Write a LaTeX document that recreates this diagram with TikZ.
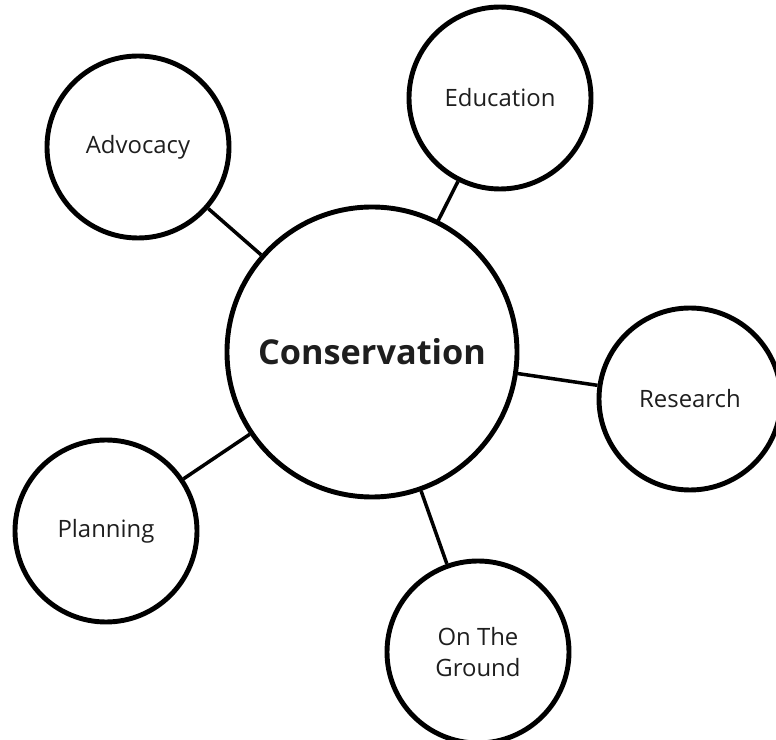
\documentclass[tikz,border=0pt]{standalone}
\usepackage{fontspec}
\setmainfont{Open Sans}
\usepackage{tikz}
\usepackage{xcolor}
\usetikzlibrary{positioning,calc}
\definecolor{textdark}{RGB}{30,30,30}

\begin{document}
\begin{tikzpicture}[x=1cm,y=1cm,
  hub/.style={draw,circle,line width=2.8pt,minimum size=5.8cm,inner sep=0pt,
    text=textdark,font=\fontsize{19.5}{24}\selectfont\bfseries},
  topic/.style={draw,circle,line width=2.8pt,minimum size=3.64cm,inner sep=0pt,
    align=center,text=textdark,font=\fontsize{13.6}{18}\selectfont},
  link/.style={line width=2pt}]
\useasboundingbox (0,0) rectangle (15.52,14.8);
\node[hub] (cons) at (7.44,7.76) {Conservation};
\foreach \n/\x/\y/\t in {adv/2.76/11.86/Advocacy,edu/10.0/12.84/Education,
    res/13.8/6.82/Research,plan/2.12/4.18/Planning,ground/9.56/1.76/{On The\\Ground}}{
  \node[topic] (\n) at (\x,\y) {\t};
  \draw[link] (cons) -- (\n);
}
\end{tikzpicture}
\end{document}
